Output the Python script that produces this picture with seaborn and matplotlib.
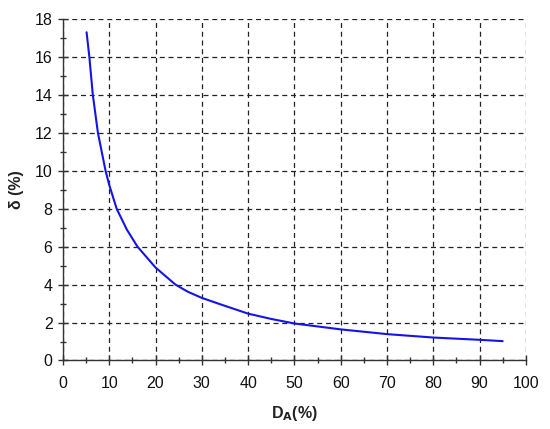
import matplotlib
matplotlib.use("Agg")
import matplotlib.pyplot as plt
import seaborn as sns
import pandas as pd
from matplotlib.ticker import MultipleLocator

# values
d_a = [5.1, 5.7, 6.45, 7.55, 9.2, 10, 11.6, 13.8, 16.1, 20, 24.3, 27, 30, 33.9, 40, 45, 50, 60, 70, 80, 90, 95]
delta = [17.3, 16, 14, 12, 10, 9.25, 8, 6.9, 6, 4.9, 4.0, 3.62, 3.3, 2.97, 2.47, 2.19, 1.95, 1.64, 1.39, 1.21, 1.09, 1.02]

df = pd.DataFrame({"D_A": d_a, "delta": delta})

sns.set_style("white")
plt.rcParams['font.family'] = ['Liberation Sans', 'DejaVu Sans']

fig = plt.figure(figsize=(5.5, 4.29), dpi=100)
ax = fig.add_axes([0.1145, 0.1597, 0.8415, 0.796])

sns.lineplot(data=df, x="D_A", y="delta", ax=ax, color="#1414e6", linewidth=1.5)

ax.set_xlim(0, 100)
ax.set_ylim(0, 18)
ax.xaxis.set_major_locator(MultipleLocator(10))
ax.xaxis.set_minor_locator(MultipleLocator(5))
ax.yaxis.set_major_locator(MultipleLocator(2))
ax.yaxis.set_minor_locator(MultipleLocator(1))

ax.grid(True, which="major", color="#222222", linestyle=(0, (4, 3)), linewidth=0.9)
for side in ["top", "right"]:
    ax.spines[side].set_visible(False)
for side in ["left", "bottom"]:
    ax.spines[side].set_color("#333333")
    ax.spines[side].set_linewidth(1.0)

ax.tick_params(which="major", direction="inout", length=7, width=1, color="#333333",
               labelsize=11.5, labelcolor="#111111")
ax.tick_params(which="minor", direction="inout", length=4, width=1, color="#333333")
ax.tick_params(axis="x", which="both", bottom=True, pad=8)
ax.tick_params(axis="y", which="both", left=True, pad=4)

ax.set_xlabel(r"D$_\mathbf{A}$(%)", fontsize=11.5, fontweight="bold", color="#222222", va="center")
ax.set_ylabel("δ (%)", fontsize=11.5, fontweight="bold", color="#222222", va="center")
ax.xaxis.set_label_coords(0.5, -0.154)
ax.yaxis.set_label_coords(-0.100, 0.5)

fig.savefig("out.png", dpi=100)
